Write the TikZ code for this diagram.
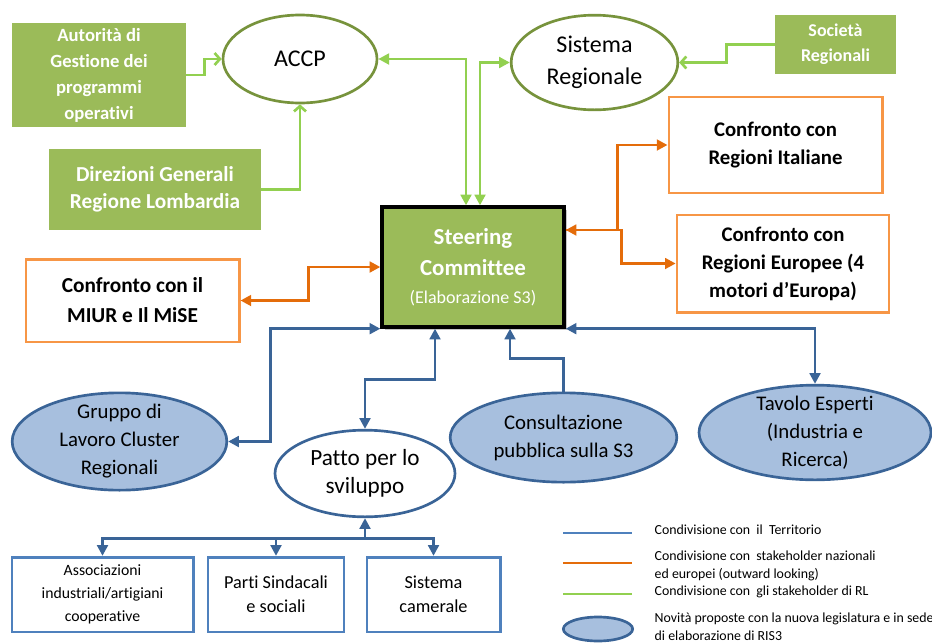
\documentclass[tikz,border=0pt]{standalone}
\usepackage{fontspec}
\setmainfont{Carlito}[Ligatures=CommonOff]
\usetikzlibrary{arrows.meta,calc,shapes.geometric,shadows}

\definecolor{grnfill}{HTML}{9BBB59}
\definecolor{olive}{HTML}{77933C}
\definecolor{lgreen}{HTML}{92D050}
\definecolor{orborder}{HTML}{F79646}
\definecolor{orline}{HTML}{E46C0A}
\definecolor{bfill}{HTML}{A7BFDE}
\definecolor{bline}{HTML}{3A6497}
\definecolor{bborder}{HTML}{4F81BD}

\newcommand\txtsize[2]{\fontsize{#1}{#2}\selectfont}

\tikzset{
  greenbox/.style={rectangle, fill=grnfill, text=white, font=\bfseries, align=center, inner sep=0pt},
  orangebox/.style={rectangle, draw=orborder, line width=2pt, fill=white, font=\bfseries\txtsize{15.6}{21}, align=center, inner sep=0pt},
  bluebox/.style={rectangle, draw=bborder, line width=2pt, fill=white, align=center, inner sep=0pt},
  oval/.style={ellipse, draw=olive, line width=2pt, fill=white, inner sep=0pt},
  newoval/.style={ellipse, draw=bline, line width=2pt, fill=bfill, inner sep=0pt},
  ovaltext/.style={align=center, font=\txtsize{15.6}{21}},
  grnlink/.style={draw=lgreen, line width=2pt},
  oralink/.style={draw=orline, line width=2pt},
  blulink/.style={draw=bline, line width=2pt},
  open/.style={-{Straight Barb[length=4pt,width=9pt]}},
  legtext/.style={anchor=west, align=left, font=\txtsize{10.4}{13.5}}
}

\begin{document}
\begin{tikzpicture}[x=0.75pt,y=-0.75pt,>={Triangle[length=8pt,width=8pt]}]
  \useasboundingbox (0,0) rectangle (932,643);

  \node[greenbox, minimum width=130.5pt, minimum height=78pt, font=\bfseries\txtsize{14}{19.5}] (aut) at (99,75) {Autorità di\\Gestione dei\\programmi\\operativi};
  \node[greenbox, minimum width=159pt, minimum height=61pt, font=\bfseries\txtsize{16}{20.5}] (dir) at (155,189.5) {Direzioni Generali\\Regione Lombardia};
  \node[greenbox, minimum width=91pt, minimum height=44pt, font=\bfseries\txtsize{13.5}{19}] (soc) at (835.5,44.5) {Società\\Regionali};
  \node[oval, minimum width=115.5pt, minimum height=66pt, label={[ovaltext, font=\txtsize{18}{24}]center:ACCP}] (accp) at (300,59) {};
  \node[oval, minimum width=125pt, minimum height=71pt, label={[ovaltext, font=\txtsize{18}{24}]center:Sistema\\Regionale}] (sisr) at (594.5,62.5) {};

  \node[greenbox, draw=black, line width=2.5pt, minimum width=136.5pt, minimum height=90pt, font=\bfseries\txtsize{17.2}{23},
        drop shadow={shadow xshift=2pt, shadow yshift=-2pt, opacity=.45}] (sc) at (473,267)
        {Steering\\Committee\\[-2pt]{\mdseries\txtsize{13.5}{16}(Elaborazione S3)}};

  \node[orangebox, minimum width=160pt, minimum height=72pt] (rit) at (775.5,145) {Confronto con\\Regioni Italiane};
  \node[orangebox, minimum width=159pt, minimum height=73pt] (reu) at (783,263.5) {Confronto con\\Regioni Europee (4\\motori d’Europa)};
  \node[orangebox, minimum width=160pt, minimum height=62pt, font=\bfseries\txtsize{16}{22.5}] (miur) at (132.5,300.5) {Confronto con il\\MIUR e Il MiSE};

  \node[newoval, minimum width=161pt, minimum height=73pt, label={[ovaltext]center:Gruppo di\\Lavoro Cluster\\Regionali}] (grp) at (119.5,441.5) {};
  \node[oval, draw=bline, minimum width=135pt, minimum height=65pt, label={[ovaltext, font=\txtsize{17.4}{21}]center:Patto per lo\\sviluppo}] (patto) at (365,473.5) {};
  \node[newoval, minimum width=170pt, minimum height=67pt, label={[ovaltext]center:Consultazione\\pubblica sulla S3}] (cons) at (563.5,437.5) {};
  \node[newoval, minimum width=174pt, minimum height=71pt, label={[ovaltext]center:Tavolo Esperti\\(Industria e\\Ricerca)}] (tav) at (815,432.5) {};

  \node[bluebox, minimum width=136pt, minimum height=56pt, font=\txtsize{11.8}{17.5}] (ass) at (102.5,594.5) {Associazioni\\industriali/artigiani\\cooperative};
  \node[bluebox, minimum width=102pt, minimum height=56pt, font=\txtsize{13.7}{18}] (par) at (276,594.5) {Parti Sindacali\\e sociali};
  \node[bluebox, minimum width=100pt, minimum height=56pt, font=\txtsize{13.7}{18}] (cam) at (433.5,594.5) {Sistema\\camerale};

  \draw[grnlink, open] (aut.east) -- ++(18,0) |- (accp.west);
  \draw[grnlink, open] (dir.east) -| (accp.south);
  \draw[grnlink, <->] (accp.east) -| ($(sc.north)+(-7,0)$);
  \draw[grnlink, <->] ($(sc.north)+(7,0)$) |- (sisr.west);
  \draw[grnlink, open] (soc.west) -- ++(-48,0) |- (sisr.east);

  \draw[oralink, <->] ($(sc.east)+(0,-37)$) -- ++(52,0) |- (rit.west);
  \draw[oralink, ->] ($(sc.east)+(0,-37)$) -- ++(56,0) |- (reu.west);
  \draw[oralink, <->] (sc.west) -- ++(-72,0) |- (miur.east);

  \draw[blulink, <->] (sc.south west) -- ++(-110,0) |- (grp.east);
  \draw[blulink, <->] ($(sc.south)+(-38,0)$) -- ++(0,51) -| (patto.north);
  \draw[blulink, ->] (cons.north) -- ++(0,-33) -| ($(sc.south)+(37,0)$);
  \draw[blulink, <->] (sc.south east) -| (tav.north);

  \coordinate (fork) at ($(patto.south)+(0,20)$);
  \draw[blulink, ->] (fork) -- (patto.south);
  \foreach \b in {ass,par,cam}
    \draw[blulink, ->] (fork) -| (\b.north);

  \draw[line width=2pt, bborder] (563,533) -- (632,533);
  \draw[line width=2pt, orline] (563,563) -- (632,563);
  \draw[line width=2pt, lgreen] (563,594) -- (632,594);
  \node[newoval, minimum width=52pt, minimum height=18pt] (lgoval) at (598,629) {};
  \node[legtext] (lg1) at (650,530) {Condivisione con\ \ il\ \ Territorio};
  \node[legtext] (lg2) at (650,566) {Condivisione con\ \ stakeholder nazionali\\ed europei (outward looking)};
  \node[legtext] (lg3) at (650,592) {Condivisione con\ \ gli stakeholder di RL};
  \node[legtext] (lg4) at (650,627) {Novità proposte con la nuova legislatura e in sede\\di elaborazione di RIS3};
\end{tikzpicture}
\end{document}
